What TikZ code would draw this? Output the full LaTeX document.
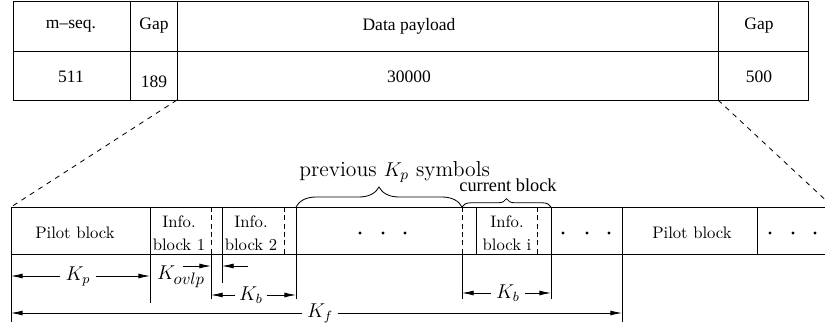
\documentclass[tikz,border=0pt]{standalone}
\usepackage{fontspec}
\newfontfamily\timesfont{Liberation Serif}[Ligatures=TeX]
\usepackage{tikz}
\usetikzlibrary{arrows.meta,decorations.pathreplacing}
\tikzset{
  tbl/.style={font=\timesfont\fontsize{10.5}{12}\selectfont, inner sep=0pt},
  blk/.style={font=\fontsize{10}{14}\selectfont, align=center, inner sep=0pt},
  dimlbl/.style={font=\fontsize{12}{14}\selectfont, inner sep=3pt},
  dimarr/.style={-{Latex[length=7pt,width=3pt]}},
  zoomln/.style={dash pattern=on 3pt off 3pt},
  sepln/.style={dash pattern=on 3pt off 2pt},
  brc/.style={decorate, decoration={brace, amplitude=#1}},
  dt/.style={circle, fill=black, inner sep=0pt, minimum size=2pt}
}

\begin{document}
\begin{tikzpicture}[x=0.6pt, y=-0.6pt, line width=0.5pt]
  \useasboundingbox (0,0) rectangle (825,335);

  % frame table
  \draw (13,1) rectangle (808,100);
  \draw (13,51) -- (808,51);
  \foreach \x in {130,177,718} \draw (\x,1) -- (\x,100);
  \node[tbl] (mseq) at (71,26) {m--seq.};
  \node[tbl] (gapa) at (154,26) {Gap};
  \node[tbl] (data) at (409,26) {Data payload};
  \node[tbl] (gapb) at (759,26) {Gap};
  \node[tbl] (nm) at (71,77) {511};
  \node[tbl] (ng) at (154,82) {189};
  \node[tbl] (nd) at (409,77) {30000};
  \node[tbl] (ngb) at (759,77) {500};

  % zoom lines
  \coordinate (tl) at (177,100);
  \coordinate (tr) at (718,100);
  \coordinate (bl) at (11,207);
  \coordinate (br) at (833,207);
  \draw[zoomln] (tl) -- (bl);
  \draw[zoomln] (tr) -- (br);

  % block row
  \draw (825,207) -- (11,207) -- (11,254) -- (825,254);
  \foreach \x in {150,222,296,476,551,622,757} \draw (\x,207) -- (\x,254);
  \foreach \x in {211,284,462,537} \draw[sepln] (\x,207) -- (\x,254);
  \node[blk] (pil1) at (75,233) {Pilot block};
  \node[blk] (inf1) at (179,233) {Info.\\block 1};
  \node[blk] (inf2) at (251,233) {Info.\\block 2};
  \node[blk] (infi) at (507,233) {Info.\\block i};
  \node[blk] (pil2) at (692,233) {Pilot block};
  \foreach \x in {360,383,405,563,587,609,770,793,815}
    \node[dt] (d\x) at (\x,233) {};

  % braces
  \coordinate (t4) at (296,207);
  \coordinate (t5) at (462,207);
  \coordinate (t6) at (551,207);
  \draw[brc=12pt] (t4) -- (t5);
  \draw[brc=5pt] (t5) -- (t6);
  \node[anchor=base west, font=\fontsize{13}{15}\selectfont, inner sep=0pt] (prev) at (299,177) {previous $K_p$ symbols};
  \node[anchor=base west, tbl, font=\timesfont\fontsize{11}{13}\selectfont] (cur) at (459,192) {current block};

  % extension lines
  \coordinate (c0) at (11,254);
  \coordinate (c1) at (150,254);
  \coordinate (c2) at (211,254);
  \coordinate (c3) at (222,254);
  \coordinate (c4) at (296,254);
  \coordinate (c5) at (462,254);
  \coordinate (c6) at (551,254);
  \coordinate (c7) at (622,254);
  \foreach \c/\y in {c0/322,c1/303,c2/299,c3/283,c4/299,c5/299,c6/299,c7/322}
    \draw (\c) -- (\c |- 0,\y);

  % dimensions
  \node[dimlbl] (kp) at (78,276) {$K_p$};
  \draw[dimarr] (kp) -- (kp -| c0);
  \draw[dimarr] (kp) -- (kp -| c1);
  \node[dimlbl, inner sep=0pt] (kov) at (181,277) {$K_{\mbox{\fontsize{10}{12}\selectfont$ovlp$}}$};
  \coordinate (ova) at (183,266);
  \coordinate (ovb) at (248,266);
  \draw[dimarr] (ova) -- (ova -| c2);
  \draw[dimarr] (ovb) -- (ovb -| c3);
  \node[dimlbl, inner sep=2pt] (kba) at (251,295) {$K_b$};
  \draw[dimarr] (kba) -- (kba -| c2);
  \draw[dimarr] (kba) -- (kba -| c4);
  \node[dimlbl] (kbb) at (508,293) {$K_b$};
  \draw[dimarr] (kbb) -- (kbb -| c5);
  \draw[dimarr] (kbb) -- (kbb -| c6);
  \node[dimlbl] (kf) at (320,313) {$K_f$};
  \draw[dimarr] (kf) -- (kf -| c0);
  \draw[dimarr] (kf) -- (kf -| c7);
\end{tikzpicture}
\end{document}
